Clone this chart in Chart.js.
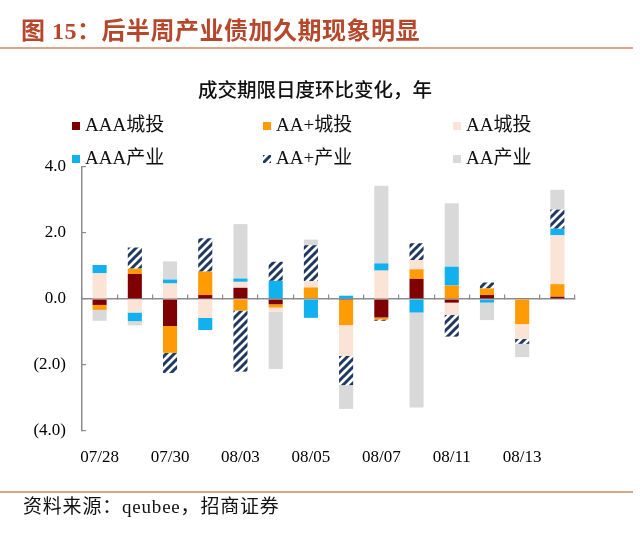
<!DOCTYPE html>
<html><head><meta charset="utf-8">
<script src="https://cdn.jsdelivr.net/npm/chart.js@4/dist/chart.umd.min.js"></script>
<style>
html,body{margin:0;padding:0;background:#fff;}
#wrap{position:relative;width:640px;height:549px;overflow:hidden;}
#c{position:absolute;left:0;top:0;}
.ov{position:absolute;white-space:nowrap;}
#title{left:21px;top:16px;font-size:24px;font-weight:bold;color:#B7472B;font-family:"Liberation Serif","Noto Sans CJK SC",serif;line-height:30px;letter-spacing:0.5px;}
.rule{position:absolute;left:0;width:633px;height:2px;background:#D9A689;}
#ctitle{left:198px;top:76px;font-size:19.5px;font-weight:500;font-family:"Noto Sans CJK SC",sans-serif;color:#111;line-height:26px;}
#src{left:23px;top:494px;font-size:19px;font-family:"Liberation Serif","Noto Sans CJK SC",serif;color:#111;line-height:26px;letter-spacing:0.8px;}
.lg{position:absolute;font-size:19px;font-family:"Liberation Serif","Noto Sans CJK SC",serif;color:#111;line-height:22px;white-space:nowrap;}
.mk{position:absolute;width:8px;height:8px;}
</style></head>
<body><div id="wrap">
<canvas id="c" width="640" height="549"></canvas>
<div class="ov" id="title">图 15：后半周产业债加久期现象明显</div>
<div class="rule" style="top:47px"></div>
<div class="ov" id="ctitle">成交期限日度环比变化，年</div>
<div class="rule" style="top:491px"></div>
<div class="ov" id="src">资料来源：qeubee，招商证券</div>
</div>
<script>
const categories = ['07/28','07/29','07/30','07/31','08/03','08/04','08/05','08/06','08/07','08/10','08/11','08/12','08/13','08/14'];
const tickLabels = ['07/28','07/30','08/03','08/05','08/07','08/11','08/13'];
const seriesNames = ['AAA城投','AA+城投','AA城投','AAA产业','AA+产业','AA产业'];
const aaaCT  = [-0.18, 0.76,-0.82, 0.12, 0.34,-0.16, 0.00,-0.03,-0.56, 0.61,-0.11, 0.12, 0.02, 0.07];
const aapCT  = [-0.15, 0.16,-0.81, 0.71,-0.35,-0.10, 0.35,-0.76,-0.06, 0.29, 0.41, 0.20,-0.76, 0.38];
const aaCT   = [ 0.78,-0.41, 0.47,-0.57, 0.18,-0.12, 0.19,-0.93, 0.86, 0.28,-0.37, 0.00,-0.45, 1.48];
const aaaCY  = [ 0.25,-0.26, 0.12,-0.37, 0.10, 0.55,-0.57, 0.10, 0.22,-0.41, 0.57,-0.11, 0.00, 0.20];
const aapCY  = [ 0.00, 0.64,-0.61, 1.01,-1.85, 0.58, 1.09,-0.89,-0.04, 0.51,-0.66, 0.18,-0.15, 0.58];
const aaCY   = [-0.33,-0.13, 0.55, 0.00, 1.65,-1.74, 0.17,-0.72, 2.35,-2.88, 1.92,-0.53,-0.40, 0.60];
const seriesValues = [aaaCT, aapCT, aaCT, aaaCY, aapCY, aaCY];

function hatch(){
  const c=document.createElement('canvas'); c.width=8; c.height=8;
  const g=c.getContext('2d'); g.fillStyle='#fff'; g.fillRect(0,0,8,8);
  g.strokeStyle='#1F3864'; g.lineWidth=3; g.beginPath();
  g.moveTo(-2,10); g.lineTo(10,-2);
  g.moveTo(-2,2); g.lineTo(2,-2);
  g.moveTo(6,10); g.lineTo(10,6);
  g.stroke();
  return g.createPattern(c,'repeat');
}
const colors = ['#7F0000','#FF9B05','#FBE3D5','#11B0EE',hatch(),'#D9D9D9'];

const serif = "'Liberation Serif','Noto Sans CJK SC',serif";
const chart = new Chart(document.getElementById('c'), {
  type:'bar',
  data:{
    labels: categories,
    datasets: seriesNames.map((n,i)=>({label:n,data:seriesValues[i],backgroundColor:colors[i],borderWidth:0,barPercentage:0.4,categoryPercentage:1.0}))
  },
  options:{
    responsive:false, animation:false,
    layout:{padding:{left:0,right:65,top:167,bottom:78}},
    plugins:{legend:{display:false},title:{display:false},tooltip:{enabled:false}},
    scales:{
      x:{type:'category',stacked:true,position:{y:0},offset:true,
         grid:{display:true,drawOnChartArea:false,drawTicks:true,tickLength:-5,offset:true,color:'#8C8C8C',lineWidth:1.2},
         border:{display:true,color:'#8C8C8C',width:1.5},
         ticks:{display:false}},
      xb:{type:'category',position:'bottom',offset:true,
         grid:{display:false},border:{display:false},
         ticks:{autoSkip:false,maxRotation:0,padding:8,color:'#000',font:{family:serif,size:17},
           callback:function(v,i){const l=categories[i];return tickLabels.includes(l)?l:'';}},
         afterFit:function(s){s.height=40;}},
      y:{stacked:true,min:-4,max:4,
         grid:{display:true,drawOnChartArea:false,drawTicks:true,tickLength:-4,color:'#8C8C8C',lineWidth:1.2},
         border:{display:true,color:'#8C8C8C',width:1.5},
         ticks:{stepSize:2,padding:20,color:'#000',font:{family:serif,size:17},
           callback:function(v){return v<0?'('+Math.abs(v).toFixed(1)+')':v.toFixed(1);}},
         afterFit:function(s){s.width=82;}}
    }
  }
});

// legend built from the datasets
const wrap=document.getElementById('wrap');
const colX=[72,263,453], rowY=[126,159];
chart.data.datasets.forEach((ds,i)=>{
  const cx=colX[i%3], cy=rowY[Math.floor(i/3)];
  const m=document.createElement('canvas'); m.width=8; m.height=8; m.className='mk';
  m.style.left=cx+'px'; m.style.top=(cy-4)+'px';
  const g=m.getContext('2d'); g.fillStyle=ds.backgroundColor; g.fillRect(0,0,8,8);
  wrap.appendChild(m);
  const t=document.createElement('div'); t.className='lg'; t.textContent=ds.label;
  t.style.left=(cx+13)+'px'; t.style.top=(cy-12)+'px';
  wrap.appendChild(t);
});
</script>
</body></html>
